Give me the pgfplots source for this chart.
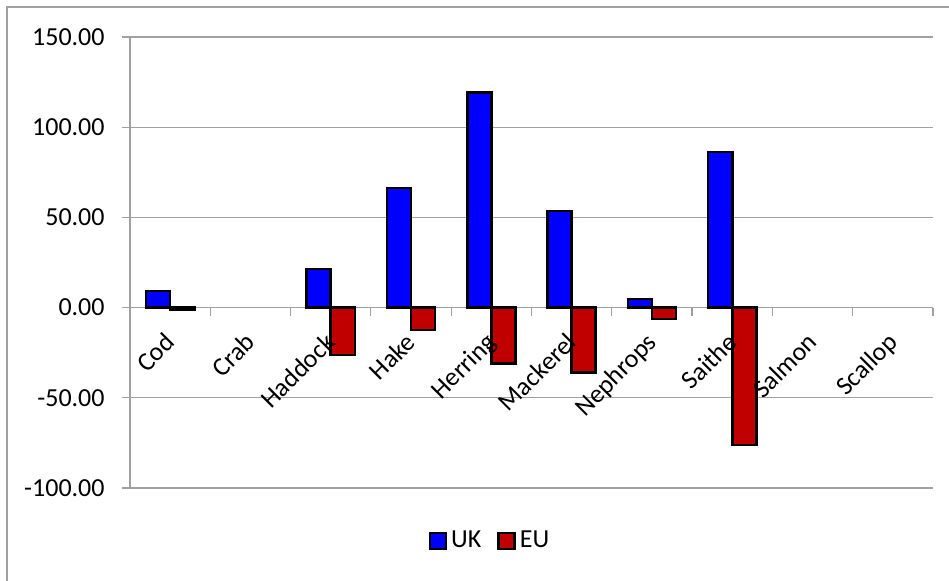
\documentclass[border=0pt]{standalone}
\usepackage{pgfplots}
\pgfplotsset{compat=1.18}
\usepackage{fontspec}
\setmainfont{Carlito}
\definecolor{ukblue}{RGB}{0,0,255}
\definecolor{eured}{RGB}{192,0,0}
\definecolor{gridgray}{RGB}{160,160,160}
\pgfplotsset{
  common/.style={
    at={(65bp,46.5bp)}, anchor=south west,
    scale only axis, width=401.5bp, height=225.5bp,
    xmin=-0.5, xmax=9.5, ymin=-100, ymax=150,
    axis x line*=middle, axis y line*=left,
  },
}
\begin{document}
\begin{tikzpicture}[font=\fontsize{13bp}{15bp}\selectfont]
\useasboundingbox (0,0) rectangle (474.5bp,290.5bp);
\draw[gridgray, line width=1bp] (3.5bp,0) -- (3.5bp,287bp) -- (474.5bp,287bp);
\begin{axis}[
  common,
  ybar=0pt, bar width=0.3,
  axis line style={gridgray, line width=0.6bp},
  ytick={-100,-50,0,50,100,150},
  yticklabel style={/pgf/number format/fixed, /pgf/number format/fixed zerofill, /pgf/number format/precision=2, anchor=east, inner sep=0pt, xshift=-8.5bp},
  /pgf/number format/assume math mode=true,
  ymajorgrids, grid style={gridgray, line width=0.6bp},
  tick align=outside, major tick length=4bp,
  tick style={gridgray, line width=0.6bp},
  xtick={-0.5,0.5,...,9.5}, xticklabels={},
  legend style={at={(0.4495,-0.1175)}, anchor=center, draw=none, fill=none, legend columns=2,
    /tikz/every even column/.append style={column sep=6bp}, font=\fontsize{13bp}{15bp}\selectfont},
  legend image code/.code={\draw[#1, line width=1.3bp] (-1bp,-4bp) rectangle (7bp,4bp);},
]
\addplot[draw=black, line width=1.3bp, fill=ukblue] coordinates {(0,9.2) (2,21.3) (3,66.2) (4,119.3) (5,53.5) (6,4.8) (7,86.2)};
\addplot[draw=black, line width=1.3bp, fill=eured] coordinates {(0,-1.3) (2,-26.3) (3,-12.4) (4,-30.9) (5,-35.9) (6,-6.3) (7,-76.1)};
\legend{UK,EU}
\end{axis}
\begin{axis}[
  common,
  axis line style={draw=none}, tick style={draw=none},
  ytick=\empty,
  xtick={0,1,2,3,4,5,6,7,8,9},
  xticklabels={Cod,Crab,Haddock,Hake,Herring,Mackerel,Nephrops,Saithe,Salmon,Scallop},
  major tick length=0pt,
  xticklabel style={rotate=45, anchor=base east, inner sep=0pt, xshift=-10.6bp, yshift=-15.1bp},
]
\end{axis}
\end{tikzpicture}
\end{document}
